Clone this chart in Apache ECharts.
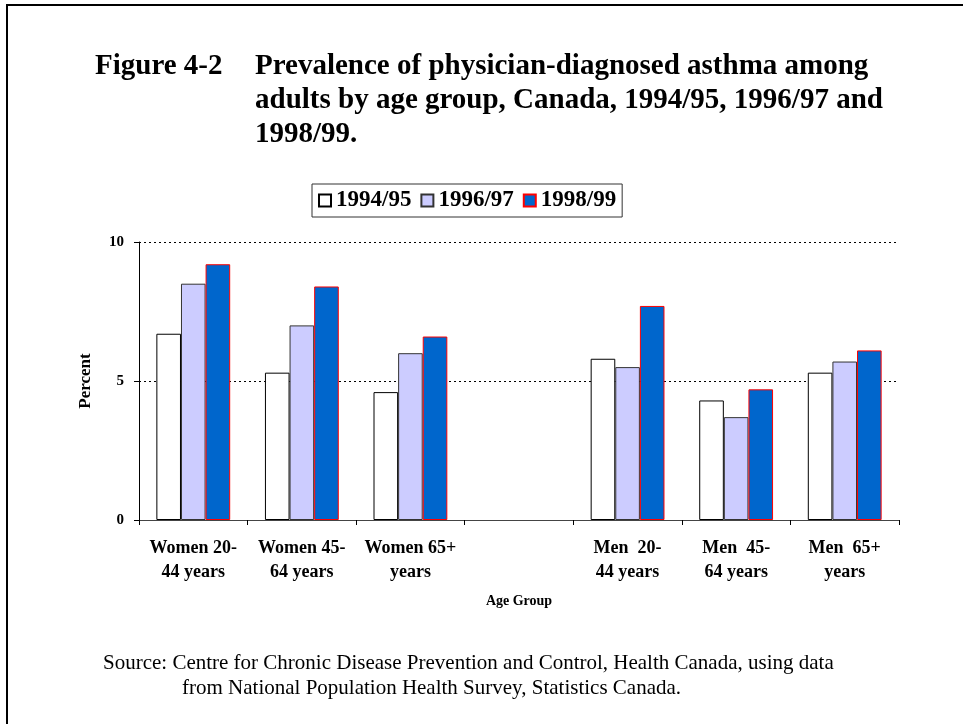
<!DOCTYPE html>
<html>
<head>
<meta charset="utf-8">
<script src="https://cdn.jsdelivr.net/npm/echarts@6/dist/echarts.min.js"></script>
<style>
  html, body { margin: 0; padding: 0; background: #fff; }
  #chart { width: 963px; height: 724px; }
</style>
</head>
<body>
<div id="chart"></div>
<script>
// age groups on the x axis (the blank one is the gap between women and men)
const categories = [
  'Women 20-\n44 years', 'Women 45-\n64 years', 'Women 65+\nyears', '',
  'Men  20-\n44 years', 'Men  45-\n64 years', 'Men  65+\nyears'
];
const seriesNames = ['1994/95', '1996/97', '1998/99'];
const values9495 = [6.7, 5.3, 4.6, null, 5.8, 4.3, 5.3];
const values9697 = [8.5, 7.0, 6.0, null, 5.5, 3.7, 5.7];
const values9899 = [9.2, 8.4, 6.6, null, 7.7, 4.7, 6.1];
const yTicks = [0, 5, 10];

const serif = "'Liberation Serif', 'Times New Roman', serif";

const chart = echarts.init(document.getElementById('chart'));

const option = {
  backgroundColor: '#fff',
  animation: false,
  title: [
    {
      text: 'Figure 4-2',
      left: 90, top: 45,
      textStyle: { fontFamily: serif, fontSize: 29, fontWeight: 'bold', color: '#000', lineHeight: 34 }
    },
    {
      text: 'Prevalence of physician-diagnosed asthma among\nadults by age group, Canada, 1994/95, 1996/97 and\n1998/99.',
      left: 250, top: 45,
      textStyle: { fontFamily: serif, fontSize: 29, fontWeight: 'bold', color: '#000', lineHeight: 34 }
    },
    {
      text: 'Source: Centre for Chronic Disease Prevention and Control, Health Canada, using data',
      left: 98, top: 646,
      textStyle: { fontFamily: serif, fontSize: 21, fontWeight: 'normal', color: '#000', lineHeight: 25 }
    },
    {
      text: 'from National Population Health Survey, Statistics Canada.',
      left: 177, top: 671,
      textStyle: { fontFamily: serif, fontSize: 21, fontWeight: 'normal', color: '#000', lineHeight: 25 }
    }
  ],
  legend: {
    data: seriesNames,
    left: 312, top: 184,
    orient: 'horizontal',
    icon: 'rect',
    itemWidth: 12, itemHeight: 12,
    itemGap: 9,
    padding: [5, 6],
    borderColor: '#333',
    borderWidth: 1,
    textStyle: { fontFamily: serif, fontSize: 23, fontWeight: 'bold', color: '#000' }
  },
  grid: { left: 139, right: 64, top: 242, bottom: 204 },
  xAxis: {
    type: 'category',
    data: categories,
    name: 'Age Group',
    nameLocation: 'middle',
    nameGap: 74,
    nameTextStyle: { fontFamily: serif, fontSize: 14, fontWeight: 'bold', color: '#000' },
    axisLine: { lineStyle: { color: '#444', width: 1 } },
    axisTick: { show: true, interval: 0, length: 5, lineStyle: { color: '#000' } },
    axisLabel: {
      interval: 0, margin: 16,
      fontFamily: serif, fontSize: 18, fontWeight: 'bold', color: '#000', lineHeight: 24
    },
    splitLine: { show: false }
  },
  yAxis: {
    type: 'value',
    min: yTicks[0], max: yTicks[yTicks.length - 1], interval: 5,
    name: 'Percent',
    nameLocation: 'middle',
    nameGap: 45,
    nameRotate: 90,
    nameTextStyle: { fontFamily: serif, fontSize: 17, fontWeight: 'bold', color: '#000' },
    axisLine: { show: true, lineStyle: { color: '#000', width: 1 } },
    axisTick: { show: true, length: 5, lineStyle: { color: '#000' } },
    axisLabel: { margin: 15, fontFamily: serif, fontSize: 15, fontWeight: 'bold', color: '#000' },
    splitLine: { show: true, lineStyle: { color: '#000', width: 1, type: [2, 3] } }
  },
  series: [
    {
      name: seriesNames[0], type: 'bar', data: values9495,
      barGap: '0%', barCategoryGap: '32%',
      itemStyle: { color: '#ffffff', borderColor: '#000', borderWidth: 1 }
    },
    {
      name: seriesNames[1], type: 'bar', data: values9697,
      barGap: '0%', barCategoryGap: '32%',
      itemStyle: { color: '#ccccff', borderColor: '#333', borderWidth: 1 }
    },
    {
      name: seriesNames[2], type: 'bar', data: values9899,
      barGap: '0%', barCategoryGap: '32%',
      itemStyle: { color: '#0066cc', borderColor: '#ff0000', borderWidth: 1 }
    }
  ],
  graphic: [
    {
      // page frame, open on the right and bottom like the scan
      type: 'rect',
      shape: { x: 7, y: 5, width: 1000, height: 800 },
      style: { fill: null, stroke: '#000', lineWidth: 2 },
      silent: true
    }
  ]
};

chart.setOption(option);
</script>
</body>
</html>
